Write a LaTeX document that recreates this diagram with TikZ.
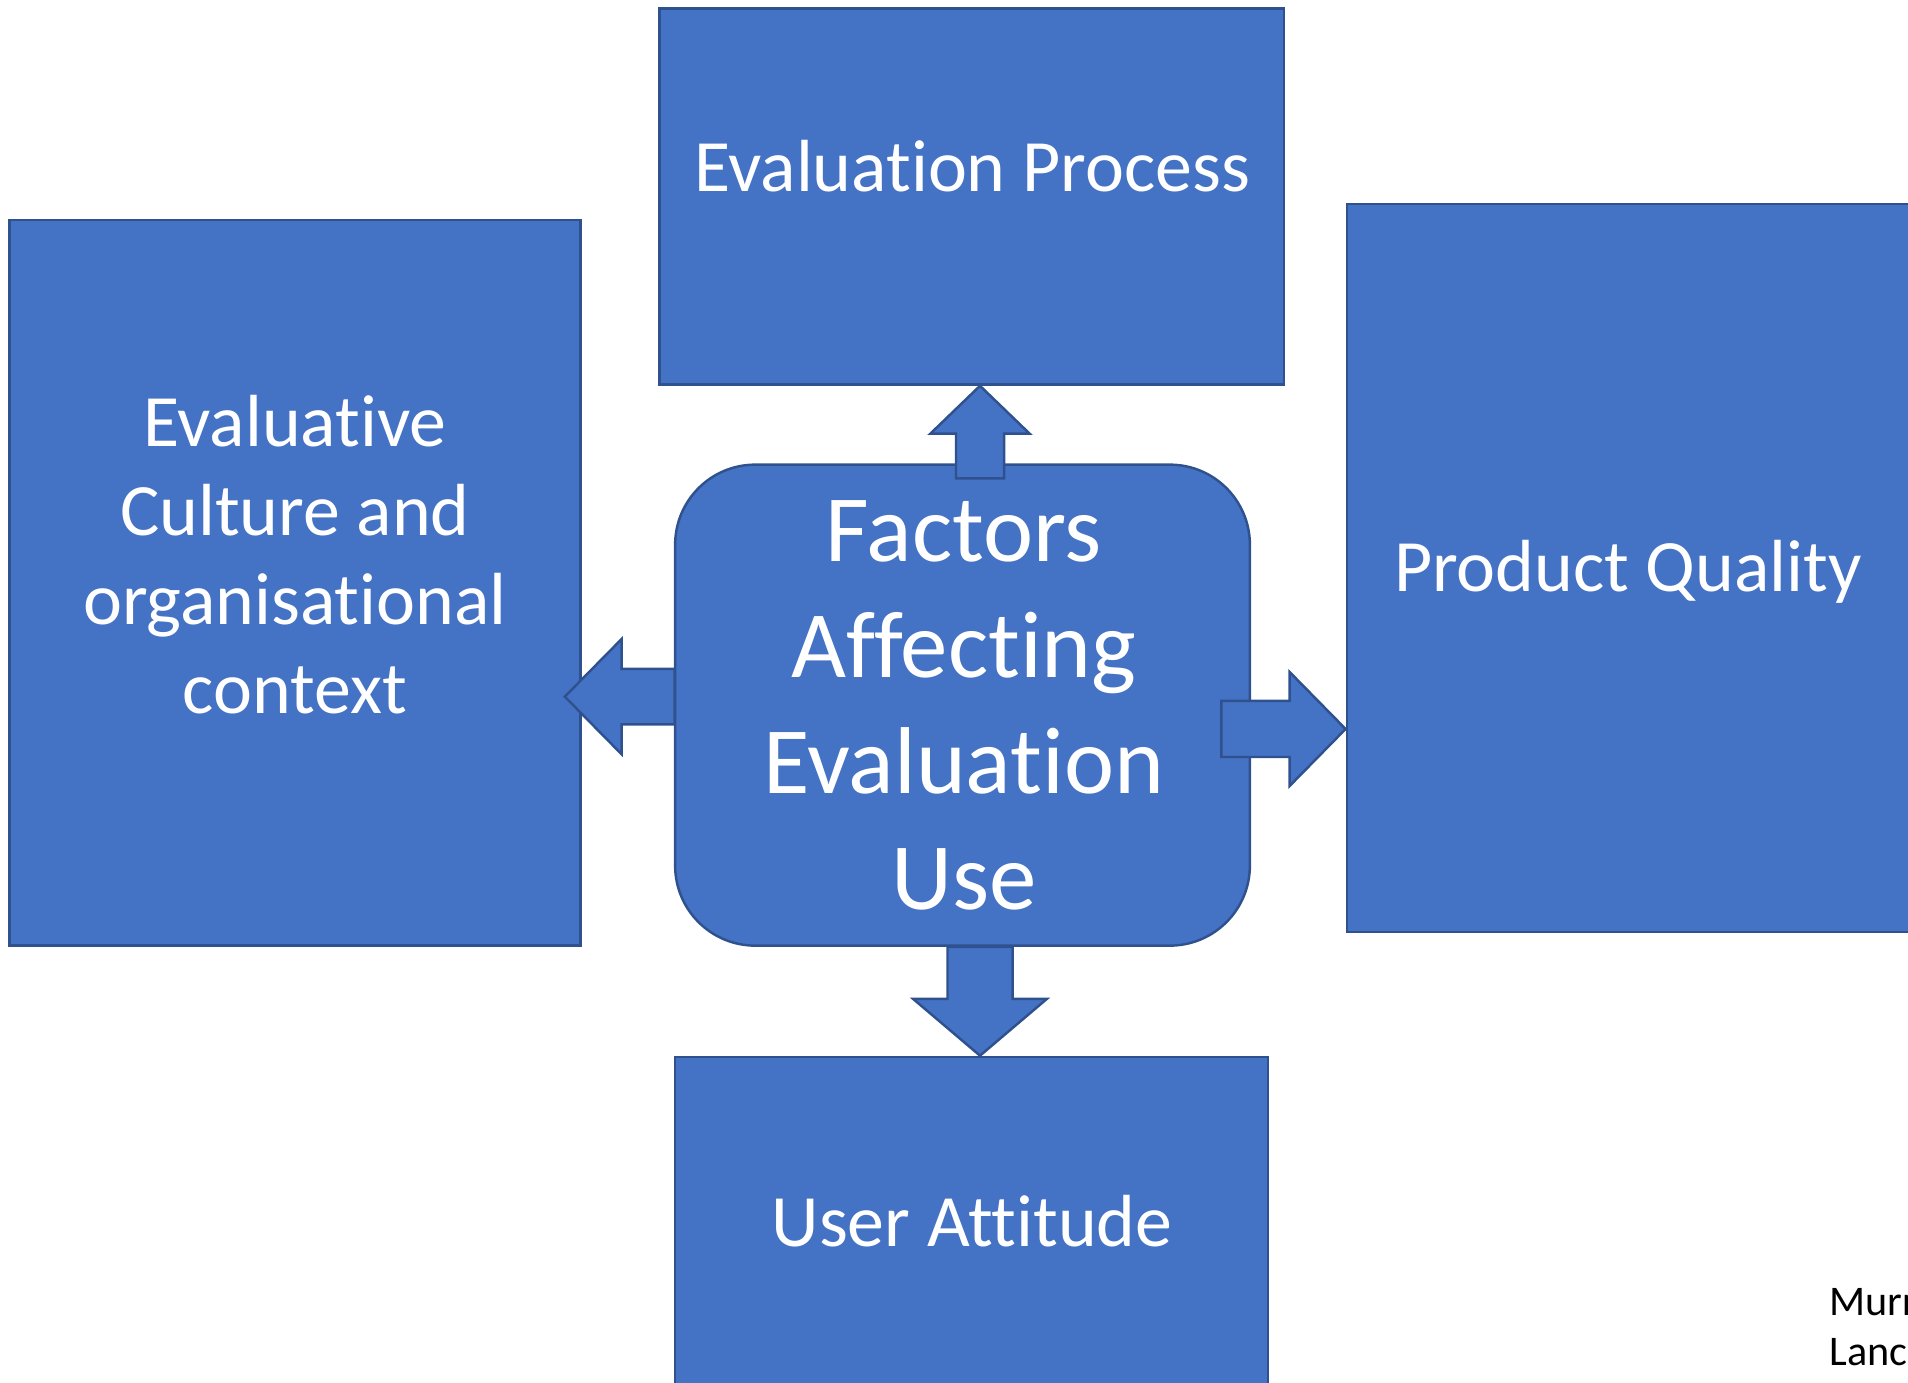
\documentclass[tikz,border=0pt]{standalone}
\usepackage{fontspec}
\setmainfont{Carlito}[Ligatures=NoCommon]
\usepackage{xcolor}
\usepackage{tikz}
\usetikzlibrary{calc}
\definecolor{myblue}{HTML}{4472C4}
\definecolor{myedge}{HTML}{2F528F}
\tikzset{mybox/.style = {draw=myedge,fill=myblue,line width=0.7pt,inner sep=0pt},
  mytext/.style = {text=white,font=\fontsize{21}{25.3}\selectfont,align=center,inner sep=0pt,anchor=base},
  myarrow/.style = {draw=myedge,fill=myblue,line width=0.7pt,line join=miter}}
\NewDocumentCommand{\blockarrow}{m m m m m}{%
\path (#1) coordinate (ba-tail) (#2) coordinate (ba-tip);
\path ($(ba-tip)!#5!(ba-tail)$) coordinate (ba-neck);
\draw[myarrow] ($(ba-tail)!#3!90:(ba-tip)$) -- ($(ba-neck)!#3!90:(ba-tip)$) -- ($(ba-neck)!#4!90:(ba-tip)$) -- (ba-tip)
  -- ($(ba-neck)!#4!-90:(ba-tip)$) -- ($(ba-neck)!#3!-90:(ba-tip)$) -- ($(ba-tail)!#3!-90:(ba-tip)$) -- cycle;
}

\begin{document}
\begin{tikzpicture}[x=0.01cm,y=-0.01cm]
\useasboundingbox (0,0) rectangle (1908,1383);

\node[mybox,minimum width=6.242cm,minimum height=3.76cm] (process) at (971.6,196.5) {};
\node[mybox,minimum width=5.707cm,minimum height=7.255cm] (context) at (295.05,582.75) {};
\node[mybox,minimum width=5.65cm,minimum height=7.276cm] (quality) at (1629.5,568.2) {};
\node[mybox,minimum width=5.927cm,minimum height=3.43cm] (attitude) at (971.65,1228.5) {};
\node[mybox,rounded corners=0.8cm,minimum width=5.744cm,minimum height=4.807cm] (factors) at (962.5,705.15) {};

\blockarrow{$(factors.north)+(17.5,15)$}{$(process.south)+(8.4,0)$}{0.24cm}{0.495cm}{0.477cm}
\blockarrow{$(factors.west)+(0.7,-8.5)$}{$(context.east |- factors.west)+(-17,-8.5)$}{0.278cm}{0.575cm}{0.567cm}
\blockarrow{$(factors.east)+(-29.7,23.85)$}{$(quality.west |- factors.east)+(0,23.85)$}{0.28cm}{0.57cm}{0.56cm}
\blockarrow{$(factors.south)+(17.5,0)$}{$(attitude.north)+(8.35,0)$}{0.325cm}{0.668cm}{0.567cm}

% multi-line nodes sit on the baseline of their last line
\node[mytext] (process-text) at (972,192) {Evaluation Process};
\node[mytext] (context-text) at (295,713.7) {Evaluative\\Culture and\\organisational\\context};
\node[mytext,font=\fontsize{27}{33}\selectfont] (factors-text) at (963.7,909.7) {Factors\\Affecting\\Evaluation\\Use};
\node[mytext] (quality-text) at (1628,591.7) {Product Quality};
\node[mytext] (attitude-text) at (972,1246.7) {User Attitude};
\node[mytext,text=black,align=left,anchor=base west,font=\fontsize{12}{14.5}\selectfont] (note) at (1829,1366) {Murr\\Lanc};
\end{tikzpicture}
\end{document}
